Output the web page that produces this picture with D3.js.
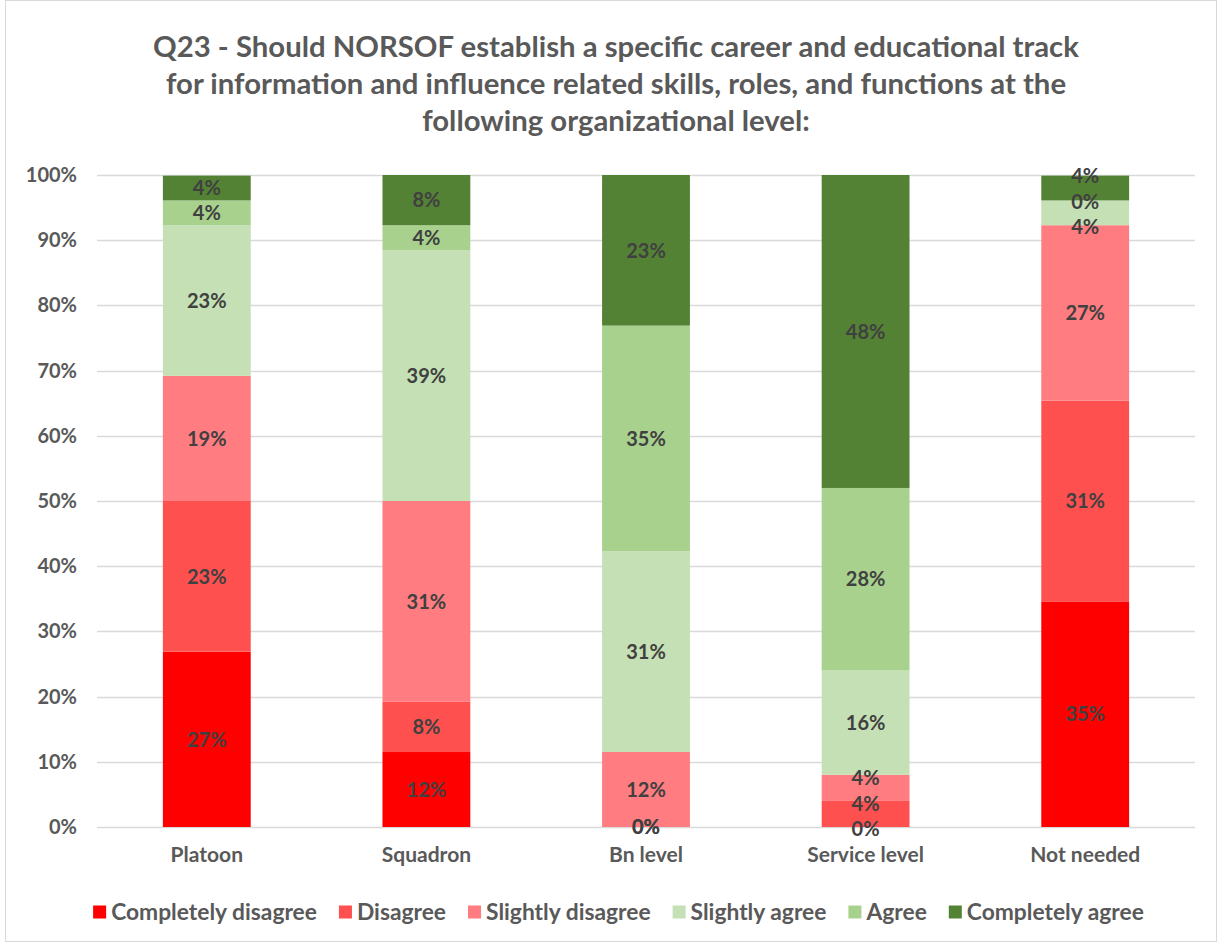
<!DOCTYPE html>
<html><head><meta charset="utf-8">
<script src="https://cdn.jsdelivr.net/npm/d3@7"></script>
<style>body{margin:0;background:#fff;} svg{display:block;font-family:Lato,"Open Sans",sans-serif;}</style>
</head><body>
<svg id="chart" width="1222" height="947"></svg>
<script>
const categories = ["Platoon","Squadron","Bn level","Service level","Not needed"];
const seriesNames = ["Completely disagree","Disagree","Slightly disagree","Slightly agree","Agree","Completely agree"];
const completelyDisagree = [26.9, 11.5, 0, 0, 34.6];
const disagree           = [23.1, 7.7, 0, 4, 30.8];
const slightlyDisagree   = [19.2, 30.8, 11.5, 4, 26.9];
const slightlyAgree      = [23.1, 38.5, 30.8, 16, 3.8];
const agree              = [3.8, 3.8, 34.6, 28, 0];
const completelyAgree    = [3.8, 7.7, 23.1, 48, 3.8];
const yTicks = [0,10,20,30,40,50,60,70,80,90,100];
const titleLines = ["Q23 - Should NORSOF establish a specific career and educational track","for information and influence related skills, roles, and functions at the","following organizational level:"];
const colors = ["#FF0000","#FF5050","#FF7C80","#C5E0B4","#A9D18E","#548235"];

const seriesValues = [completelyDisagree, disagree, slightlyDisagree, slightlyAgree, agree, completelyAgree];
const rows = categories.map((c,i)=>{const r={cat:c}; seriesNames.forEach((s,j)=>r[s]=seriesValues[j][i]); return r;});
const stack = d3.stack().keys(seriesNames)(rows);

const svg = d3.select("#chart");
svg.append("rect").attr("x",5.5).attr("y",0.5).attr("width",1211).attr("height",941).attr("fill","#fff").attr("stroke","#d9d9d9");

const x = d3.scaleBand().domain(categories).range([97,1195]).paddingInner(0.6).paddingOuter(0.3);
const y = d3.scaleLinear().domain([0,100]).range([827,175]);

// title
const t = svg.append("text").attr("text-anchor","middle").attr("fill","#595959").attr("font-weight","bold").attr("font-size",29.3);
titleLines.forEach((l,i)=>t.append("tspan").attr("x",616).attr("y",57+i*37).text(l));

// grid
svg.append("g").selectAll("line").data(yTicks).join("line")
  .attr("x1",97).attr("x2",1195).attr("y1",d=>Math.round(y(d))+0.5).attr("y2",d=>Math.round(y(d))+0.5)
  .attr("stroke","#d9d9d9").attr("stroke-width",1.3);

// y axis
const ya = svg.append("g").attr("transform","translate(77,0)")
  .call(d3.axisLeft(y).tickValues(yTicks).tickFormat(d=>d+"%").tickSize(0).tickPadding(0));
ya.select(".domain").remove();
ya.selectAll("text").attr("font-size",20).attr("font-weight","bold").attr("fill","#595959").attr("font-family","Lato");

// x axis
const xa = svg.append("g").attr("transform","translate(0,827)").call(d3.axisBottom(x).tickSize(0).tickPadding(20));
xa.select(".domain").remove();
xa.selectAll("text").attr("font-size",21).attr("font-weight","bold").attr("fill","#595959").attr("font-family","Lato");

// bars
const g = svg.append("g");
stack.forEach((s,j)=>{
  g.append("g").selectAll("rect").data(s).join("rect")
    .attr("x",d=>x(d.data.cat)).attr("width",x.bandwidth())
    .attr("y",d=>y(d[1])).attr("height",d=>y(d[0])-y(d[1]))
    .attr("fill",colors[j]);
});

// data labels with cluster-based collision avoidance (like the spreadsheet)
const minGap = 25.5, topLim = y(100)+1, botLim = y(0)+2;
categories.forEach((c,i)=>{
  const labs = stack.map(s=>({v:s[i][1]-s[i][0], ny:(y(s[i][0])+y(s[i][1]))/2}));
  labs.sort((a,b)=>a.ny-b.ny);
  // slots: labels at identical positions share a slot
  const slots=[];
  labs.forEach(l=>{const last=slots[slots.length-1]; if(last && Math.abs(last.ny-l.ny)<0.5) last.items.push(l); else slots.push({ny:l.ny,items:[l]});});
  let clusters = slots.map(s=>[s]);
  const place = cl=>{
    const m=d3.mean(cl,s=>s.ny); let start=m-(cl.length-1)*minGap/2;
    let end=start+(cl.length-1)*minGap;
    if(end>botLim){start-=end-botLim;}
    if(start<topLim){start=topLim;}
    cl.forEach((s,k)=>s.y=start+k*minGap);
  };
  clusters.forEach(place);
  let changed=true;
  while(changed){
    changed=false;
    for(let k=0;k<clusters.length-1;k++){
      const a=clusters[k], b=clusters[k+1];
      if(b[0].y-a[a.length-1].y<minGap){clusters.splice(k,2,a.concat(b)); place(clusters[k]); changed=true; break;}
    }
  }
  slots.forEach(s=>s.items.forEach(l=>l.y=s.y));
  g.append("g").selectAll("text").data(labs).join("text")
    .attr("x",x(c)+x.bandwidth()/2)
    .attr("y",d=>d.y).attr("dy","0.36em")
    .attr("text-anchor","middle").attr("font-size",20).attr("font-weight","bold").attr("fill","#404040")
    .text(d=>Math.round(d.v)+"%");
});

// legend
const lg = svg.append("g").attr("transform","translate(0,912)");
const items = lg.selectAll("g").data(seriesNames).join("g");
items.append("rect").attr("width",13).attr("height",13).attr("y",-6.5).attr("fill",(d,i)=>colors[i]);
items.append("text").attr("x",18).attr("dy","0.36em").attr("font-size",22.8).attr("font-weight","bold").attr("fill","#595959").text(d=>d);
let widths=[]; items.each(function(){widths.push(this.getBBox().width);});
const gap=22; const total=d3.sum(widths)+gap*(widths.length-1);
let cx=618.5-total/2;
items.each(function(d,i){d3.select(this).attr("transform",`translate(${cx},0)`); cx+=widths[i]+gap;});
</script>
</body></html>
